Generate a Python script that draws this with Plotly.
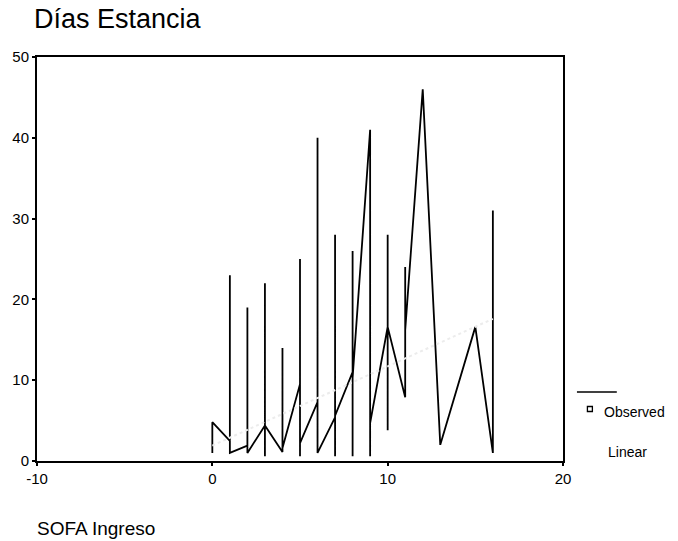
import plotly.graph_objects as go

# Observed stay length (days) by admission SOFA score, joined in record order
sofa = [0, 0,
        1, 1, 1,
        2, 2, 2,
        3, 3, 3, 3,
        4, 4, 4,
        5, 5, 5, 5,
        6, 6, 6,
        7, 7, 7, 7,
        8, 8, 8, 8,
        9, 9, 9,
        10, 10, 10, 10,
        11, 11, 11,
        12,
        13,
        15,
        16, 16]
dias = [1, 4.8,
        2.5, 23, 1,
        1.9, 19, 1,
        4.4, 22, 0.6, 4.4,
        1.1, 14, 1.6,
        9.5, 25, 0.6, 2.2,
        7.3, 40, 1,
        5.4, 28, 0.6, 5.6,
        11, 26, 0.6, 10.3,
        41, 0.6, 4.7,
        16.6, 28, 3.8, 16.6,
        7.9, 24, 16.2,
        46,
        2,
        16.6,
        1, 31]

# Linear fit line endpoints
lin_x = [0, 16]
lin_y = [1.9, 17.6]

x_ticks = [-10, 0, 10, 20]
y_ticks = [0, 10, 20, 30, 40, 50]

FONT = "Liberation Sans, Arial, sans-serif"

fig = go.Figure()
fig.add_trace(go.Scatter(x=sofa, y=dias, mode="lines", name="Observed",
                         line=dict(color="black", width=1.8), showlegend=False))
fig.add_trace(go.Scatter(x=lin_x, y=lin_y, mode="lines", name="Linear",
                         line=dict(color="#ececec", width=2, dash="dot"),
                         showlegend=False))

L, R, T, B = 35, 115, 57, 80
W, H = 678, 541
pw, ph = W - L - R, H - T - B


def px(x):
    return (x - L) / pw


def py(y):
    return (H - B - y) / ph


fig.update_layout(
    width=W, height=H,
    margin=dict(l=L, r=R, t=T, b=B),
    paper_bgcolor="white", plot_bgcolor="white",
    font=dict(family=FONT, color="black"),
    title=dict(text="Días Estancia", font=dict(size=27, family=FONT),
               x=34 / W, xref="container", xanchor="left",
               y=1 - 19 / H, yref="container", yanchor="middle"),
    xaxis=dict(range=[-10, 20], tickvals=x_ticks, ticktext=[str(v) for v in x_ticks],
               showgrid=False, zeroline=False, showline=True, mirror=True,
               linecolor="black", linewidth=2, ticks="outside", ticklen=3,
               tickwidth=2, tickcolor="black", tickfont=dict(size=15)),
    yaxis=dict(range=[0, 50], tickvals=y_ticks, ticktext=[str(v) for v in y_ticks],
               showgrid=False, zeroline=False, showline=True, mirror=True,
               linecolor="black", linewidth=2, ticks="outside", ticklen=3,
               tickwidth=2, tickcolor="black", tickfont=dict(size=15)),
    showlegend=False,
)

# Axis title placed at the left under the plot
fig.add_annotation(text="SOFA Ingreso", xref="paper", yref="paper",
                   x=px(33), y=py(528), xanchor="left", yanchor="middle",
                   showarrow=False, font=dict(size=19, family=FONT))

# Legend block beside the plot
fig.add_shape(type="line", xref="paper", yref="paper",
              x0=px(577), x1=px(617), y0=py(392), y1=py(392),
              line=dict(color="black", width=1.5))
fig.add_shape(type="rect", xref="paper", yref="paper",
              x0=px(587.5), x1=px(592.5), y0=py(411.5), y1=py(406.5),
              line=dict(color="black", width=1.3), fillcolor="white")
fig.add_annotation(text="Observed", xref="paper", yref="paper",
                   x=px(602), y=py(412), xanchor="left", yanchor="middle",
                   showarrow=False, font=dict(size=14, family=FONT))
fig.add_annotation(text="Linear", xref="paper", yref="paper",
                   x=px(606), y=py(452), xanchor="left", yanchor="middle",
                   showarrow=False, font=dict(size=14, family=FONT))

fig.write_html("out.html")
